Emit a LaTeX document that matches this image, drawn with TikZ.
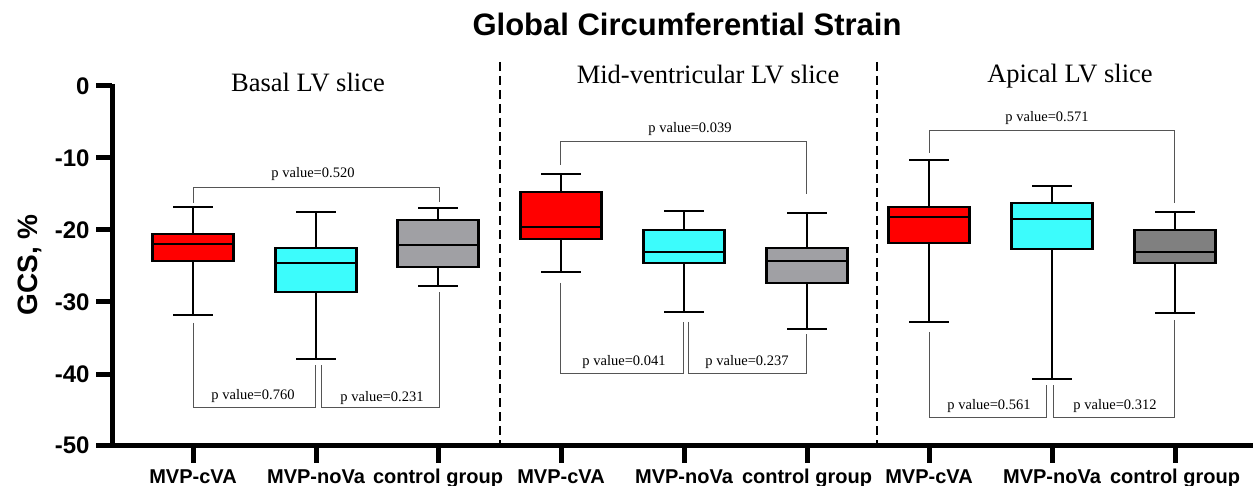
\documentclass[tikz,border=0pt]{standalone}
\usepackage{fontspec}
\setmainfont{Liberation Serif}
\setsansfont{Liberation Sans}
\definecolor{boxred}{HTML}{FF0000}
\definecolor{boxcyan}{HTML}{3CFCFC}
\definecolor{boxgray}{HTML}{A0A0A4}
\definecolor{boxdgray}{HTML}{808080}
\definecolor{brk}{HTML}{555555}
\tikzset{
  axisline/.style={line width=5pt},
  whisk/.style={line width=2.3pt},
  boxline/.style={line width=2.5pt},
  brack/.style={draw=brk, line width=1pt},
  plab/.style={font=\fontsize{14.5}{16}\selectfont, inner sep=1pt},
  ptitle/.style={font=\fontsize{26.5}{30}\selectfont, anchor=base},
  ticklab/.style={font=\sffamily\bfseries\fontsize{24}{28}\selectfont, anchor=east},
  grplab/.style={font=\sffamily\bfseries\fontsize{20}{24}\selectfont, anchor=base},
  divider/.style={line width=1.6pt, dash pattern=on 9pt off 5pt},
}
% #1 x, #2 cap top, #3 box top, #4 median, #5 box bottom, #6 cap bottom, #7 colour
\newcommand\myboxplot[7]{%
  \draw[whisk] (#1,#2) -- (#1,#3);
  \draw[whisk] (#1,#5) -- (#1,#6);
  \draw[whisk] (#1-20,#2) -- (#1+20,#2);
  \draw[whisk] (#1-20,#6) -- (#1+20,#6);
  \filldraw[fill=#7, boxline] (#1-40.5,#3) rectangle (#1+40.5,#5);
  \draw[boxline] (#1-40.5,#4) -- (#1+40.5,#4);
}
\begin{document}
\begin{tikzpicture}[x=1pt,y=-1pt]
\useasboundingbox (0,0) rectangle (1253,486);

% title
\node[font=\sffamily\bfseries\fontsize{31}{36}\selectfont, anchor=base] (title) at (687,36) {Global Circumferential Strain};

% panel titles
\node[ptitle] (basal) at (308,92) {Basal LV slice};
\node[ptitle] (mid) at (708,84) {Mid-ventricular LV slice};
\node[ptitle] (apical) at (1070,83) {Apical LV slice};

% dividers
\draw[divider] (500,62) -- (500,443);
\draw[divider] (877,62) -- (877,443);

% boxes
\myboxplot{193}{207}{234}{244}{261}{315}{boxred}
\myboxplot{316}{212}{248}{263}{292}{359}{boxcyan}
\myboxplot{438}{208}{220}{245}{267}{286}{boxgray}
\myboxplot{561}{174}{192}{227}{239}{272}{boxred}
\myboxplot{684}{211}{230}{252}{263}{312}{boxcyan}
\myboxplot{807}{213}{248}{261}{283}{329}{boxgray}
\myboxplot{929}{160}{207}{217}{243}{322}{boxred}
\myboxplot{1052}{186}{203}{219}{249}{379}{boxcyan}
\myboxplot{1175}{212}{230}{252}{263}{313}{boxdgray}

% brackets panel 1
\draw[brack] (193,203) -- (193,188) -- (439,188) -- (439,202);
\node[plab] (p1a) at (313,174) {p value=0.520};
\draw[brack] (193,323) -- (193,407) -- (315,407) -- (315,365);
\node[plab] (p1b) at (253,396) {p value=0.760};
\draw[brack] (321,365) -- (321,407) -- (439,407) -- (439,292);
\node[plab] (p1c) at (382,398) {p value=0.231};
% panel 2
\draw[brack] (560,165) -- (560,142) -- (806,142) -- (806,194);
\node[plab] (p2a) at (690,129) {p value=0.039};
\draw[brack] (560,283) -- (560,373) -- (683,373) -- (683,322);
\node[plab] (p2b) at (624,362) {p value=0.041};
\draw[brack] (688,322) -- (688,373) -- (806,373) -- (806,334);
\node[plab] (p2c) at (747,362) {p value=0.237};
% panel 3
\draw[brack] (929,153) -- (929,131) -- (1174,131) -- (1174,203);
\node[plab] (p3a) at (1047,118) {p value=0.571};
\draw[brack] (929,332) -- (929,417) -- (1046,417) -- (1046,385);
\node[plab] (p3b) at (989,406) {p value=0.561};
\draw[brack] (1053,385) -- (1053,417) -- (1174,417) -- (1174,320);
\node[plab] (p3c) at (1115,406) {p value=0.312};

% axes
\draw[axisline] (112,84) -- (112,447.5);
\draw[axisline] (109.5,445) -- (1253,445);
\foreach \v/\yy in {0/86,-10/158,-20/230,-30/302,-40/374,-50/445} {
  \draw[axisline] (96,\yy) -- (112,\yy);
  \node[ticklab] (yl\v) at (93,\yy) {\v};
}
\node[font=\sffamily\bfseries\fontsize{28}{32}\selectfont, rotate=90] (ylab) at (30,265) {GCS, \%};

% x ticks and labels
\foreach \xx/\lab [count=\i] in {193/MVP-cVA,316/MVP-noVa,438/control group,561/MVP-cVA,684/MVP-noVa,807/control group,929/MVP-cVA,1052/MVP-noVa,1175/control group} {
  \draw[axisline] (\xx,445) -- (\xx,463);
  \node[grplab] (xl\i) at (\xx,483) {\lab};
}
\end{tikzpicture}
\end{document}
